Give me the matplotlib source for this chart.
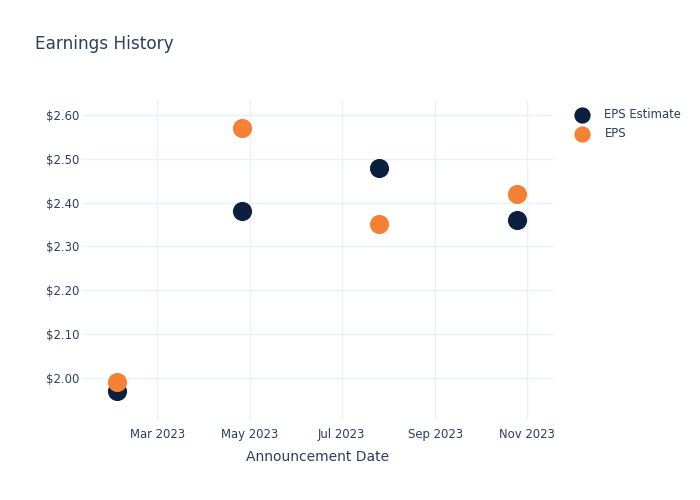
import matplotlib
matplotlib.use("Agg")
import matplotlib.pyplot as plt
import matplotlib.dates as mdates
import matplotlib.ticker as mticker
import numpy as np
from datetime import datetime

dates = ["2023-02-02", "2023-04-26", "2023-07-26", "2023-10-25"]
eps_estimate = [1.97, 2.38, 2.48, 2.36]
eps_actual = [1.99, 2.57, 2.35, 2.42]
series_names = ["EPS Estimate", "EPS"]

x = [datetime.strptime(d, "%Y-%m-%d") for d in dates]

text_color = "#2a3f5f"
grid_color = "#ebf0f8"
navy = "#0d1f3f"
orange = "#f58134"

fig = plt.figure(figsize=(7, 5), dpi=100)
ax = fig.add_axes([0.117, 0.16, 0.673, 0.64])

ax.scatter(x, eps_estimate, s=190, color=navy, label=series_names[0], zorder=3, linewidths=0)
ax.scatter(x, eps_actual, s=190, color=orange, label=series_names[1], zorder=4, linewidths=0)

ax.set_xlim(datetime(2023, 1, 10), datetime(2023, 11, 18))
ax.set_ylim(1.904, 2.634)

ax.xaxis.set_major_locator(mdates.MonthLocator(bymonth=[3, 5, 7, 9, 11]))
ax.xaxis.set_major_formatter(mdates.DateFormatter("%b %Y"))
ax.yaxis.set_major_locator(mticker.MultipleLocator(0.1))
ax.yaxis.set_major_formatter(mticker.FuncFormatter(lambda v, p: f"${v:.2f}"))

for s in ax.spines.values():
    s.set_visible(False)
ax.grid(True, color=grid_color, linewidth=1)
ax.set_axisbelow(True)
ax.tick_params(axis="both", length=0, colors=text_color, labelsize=8.4)
ax.tick_params(axis="x", pad=6)
ax.tick_params(axis="y", pad=2)

ax.set_xlabel("Announcement Date", color=text_color, fontsize=10, labelpad=6)

fig.text(0.05, 0.912, "Earnings History", color=text_color, fontsize=12.2, va="center", ha="left")

leg = ax.legend(loc="upper left", bbox_to_anchor=(1.02, 1.0), frameon=False,
                fontsize=8.4, labelcolor=text_color, handletextpad=0.9,
                labelspacing=0.5, borderaxespad=0.3, markerscale=0.85)

fig.savefig("out.png", dpi=100, facecolor="white")
